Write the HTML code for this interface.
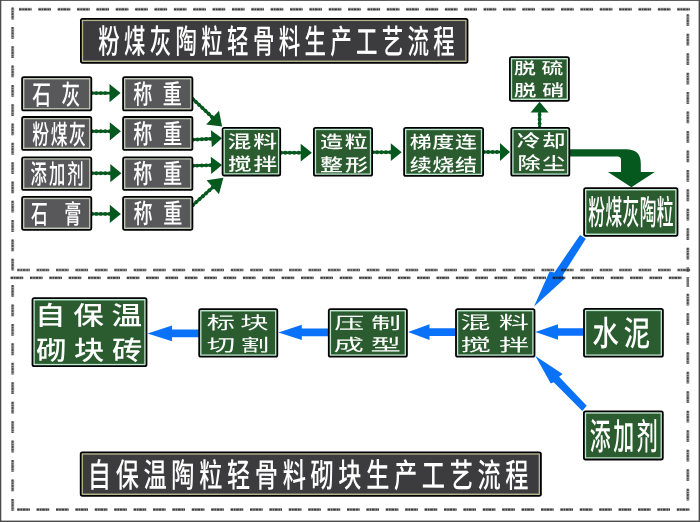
<!DOCTYPE html>
<html lang="zh-CN"><head><meta charset="utf-8"><title>粉煤灰陶粒轻骨料生产工艺流程</title>
<style>
html,body{margin:0;padding:0;background:#fff}
#c{position:relative;width:700px;height:522px;overflow:hidden;background:#fff;font-family:"Liberation Sans","Noto Sans CJK SC",sans-serif}
svg{position:absolute;left:0;top:0}
#tx{position:absolute;left:0;top:0;width:700px;height:522px;will-change:transform}
.t{position:absolute;left:0;top:0;display:inline-block;white-space:pre;line-height:1;color:#fff;transform-origin:0 0}
</style></head><body>
<div id="c">
<svg width="700" height="522" viewBox="0 0 700 522">
<line x1="92.0" y1="93.1" x2="110.5" y2="93.1" stroke="#05581e" stroke-width="2.7"/><line x1="92.0" y1="93.1" x2="109.5" y2="93.1" stroke="#05581e" stroke-width="3.9" stroke-linecap="round" stroke-dasharray="0.01 4.4"/><polygon points="109.5,102.2 120.6,93.1 109.5,84.0" fill="#05581e"/>
<line x1="92.0" y1="131.3" x2="110.8" y2="131.3" stroke="#05581e" stroke-width="2.7"/><line x1="92.0" y1="131.3" x2="109.8" y2="131.3" stroke="#05581e" stroke-width="3.9" stroke-linecap="round" stroke-dasharray="0.01 4.4"/><polygon points="109.8,140.4 120.9,131.3 109.8,122.2" fill="#05581e"/>
<line x1="92.0" y1="173.2" x2="111.3" y2="173.2" stroke="#05581e" stroke-width="2.7"/><line x1="92.0" y1="173.2" x2="110.3" y2="173.2" stroke="#05581e" stroke-width="3.9" stroke-linecap="round" stroke-dasharray="0.01 4.4"/><polygon points="110.3,182.3 121.4,173.2 110.3,164.1" fill="#05581e"/>
<line x1="92.0" y1="213.9" x2="110.8" y2="213.9" stroke="#05581e" stroke-width="2.7"/><line x1="92.0" y1="213.9" x2="109.8" y2="213.9" stroke="#05581e" stroke-width="3.9" stroke-linecap="round" stroke-dasharray="0.01 4.4"/><polygon points="109.8,223.0 120.9,213.9 109.8,204.8" fill="#05581e"/>
<line x1="192.7" y1="98.8" x2="213.3" y2="118.3" stroke="#05581e" stroke-width="2.7"/><line x1="192.7" y1="98.8" x2="212.6" y2="117.6" stroke="#05581e" stroke-width="3.9" stroke-linecap="round" stroke-dasharray="0.01 4.4"/><polygon points="206.2,124.4 222.1,126.6 219.0,110.8" fill="#05581e"/>
<line x1="193.0" y1="139.7" x2="212.3" y2="138.7" stroke="#05581e" stroke-width="2.7"/><line x1="193.0" y1="139.7" x2="211.3" y2="138.8" stroke="#05581e" stroke-width="3.9" stroke-linecap="round" stroke-dasharray="0.01 4.4"/><polygon points="211.8,147.3 222.0,138.2 210.9,130.2" fill="#05581e"/>
<line x1="193.0" y1="165.7" x2="212.0" y2="165.2" stroke="#05581e" stroke-width="2.7"/><line x1="193.0" y1="165.7" x2="211.0" y2="165.3" stroke="#05581e" stroke-width="3.9" stroke-linecap="round" stroke-dasharray="0.01 4.4"/><polygon points="211.2,173.9 222.0,165.0 210.8,156.7" fill="#05581e"/>
<line x1="193.0" y1="205.0" x2="213.6" y2="186.6" stroke="#05581e" stroke-width="2.7"/><line x1="193.0" y1="205.0" x2="212.8" y2="187.3" stroke="#05581e" stroke-width="3.9" stroke-linecap="round" stroke-dasharray="0.01 4.4"/><polygon points="219.0,194.2 223.4,177.8 206.6,180.3" fill="#05581e"/>
<line x1="281.0" y1="152.7" x2="301.7" y2="152.7" stroke="#05581e" stroke-width="2.7"/><line x1="281.0" y1="152.7" x2="300.7" y2="152.7" stroke="#05581e" stroke-width="3.9" stroke-linecap="round" stroke-dasharray="0.01 4.4"/><polygon points="300.7,161.6 311.9,152.7 300.7,143.8" fill="#05581e"/>
<line x1="372.7" y1="152.2" x2="391.8" y2="152.2" stroke="#05581e" stroke-width="2.7"/><line x1="372.7" y1="152.2" x2="390.8" y2="152.2" stroke="#05581e" stroke-width="3.9" stroke-linecap="round" stroke-dasharray="0.01 4.4"/><polygon points="390.8,161.1 401.7,152.2 390.8,143.3" fill="#05581e"/>
<line x1="483.8" y1="152.0" x2="501.0" y2="152.0" stroke="#05581e" stroke-width="2.7"/><line x1="483.8" y1="152.0" x2="500.0" y2="152.0" stroke="#05581e" stroke-width="3.9" stroke-linecap="round" stroke-dasharray="0.01 4.4"/><polygon points="500.0,160.9 509.9,152.0 500.0,143.1" fill="#05581e"/>
<line x1="539.6" y1="128.0" x2="539.6" y2="111.5" stroke="#05581e" stroke-width="2.7"/><line x1="539.6" y1="128.0" x2="539.6" y2="112.5" stroke="#05581e" stroke-width="3.9" stroke-linecap="round" stroke-dasharray="0.01 4.4"/><polygon points="548.6,112.5 539.6,101.8 530.6,112.5" fill="#05581e"/>
<path d="M570,149.3 L626,149.3 Q640.8,149.3 640.8,163.5 L640.8,172.1 L654.8,172.1 L631.4,187.2 L607.9,172.1 L621,172.1 L621,160 Q621,156.5 617.5,156.5 L570,156.5 Z" fill="#05581e"/>
<polygon points="580.0,235.0 585.8,238.7 562.7,275.2 564.3,279.0 534.0,306.5 549.6,271.6 554.4,272.4" fill="#0a72f8"/>
<polygon points="535.4,356.0 562.6,374.1 559.1,376.8 586.7,405.7 582.3,411.0 553.7,382.2 550.8,383.5" fill="#0a72f8"/>
<polygon points="584.0,328.2 558.0,328.2 558.0,324.2 535.3,332.0 558.0,339.8 558.0,335.8 584.0,335.8" fill="#0a72f8"/>
<polygon points="456.0,328.3 429.5,328.3 429.5,324.3 408.1,332.1 429.5,339.9 429.5,335.9 456.0,335.9" fill="#0a72f8"/>
<polygon points="329.0,328.6 301.8,328.6 301.8,324.7 278.4,332.4 301.8,340.1 301.8,336.2 329.0,336.2" fill="#0a72f8"/>
<polygon points="199.0,329.6 172.0,329.6 172.0,325.6 147.5,333.4 172.0,341.2 172.0,337.2 199.0,337.2" fill="#0a72f8"/>
</svg>
<svg width="700" height="522" viewBox="0 0 700 522">
<line x1="19" y1="9.2" x2="690.0" y2="9.2" stroke="#2c2c2c" stroke-width="3.0" stroke-opacity="0.42" stroke-dasharray="12.6 6.76"/><line x1="19" y1="9.299999999999999" x2="690.0" y2="9.299999999999999" stroke="#111" stroke-width="1.7" stroke-opacity="0.72" stroke-dasharray="2.4 0.9 1.5 0.8 2.6 0.9 1.8 0.7 1.0 6.76"/>
<line x1="17.2" y1="509.6" x2="689.6" y2="509.6" stroke="#2c2c2c" stroke-width="3.0" stroke-opacity="0.42" stroke-dasharray="12.6 6.80"/><line x1="17.2" y1="509.70000000000005" x2="689.6" y2="509.70000000000005" stroke="#111" stroke-width="1.7" stroke-opacity="0.72" stroke-dasharray="2.4 0.9 1.5 0.8 2.6 0.9 1.8 0.7 1.0 6.80"/>
<line x1="17.2" y1="269.9" x2="690.3" y2="269.9" stroke="#2c2c2c" stroke-width="3.0" stroke-opacity="0.42" stroke-dasharray="12.6 6.82"/><line x1="17.2" y1="270.0" x2="690.3" y2="270.0" stroke="#111" stroke-width="1.7" stroke-opacity="0.72" stroke-dasharray="2.4 0.9 1.5 0.8 2.6 0.9 1.8 0.7 1.0 6.82"/>
<line x1="10.6" y1="277.8" x2="681.6" y2="277.8" stroke="#2c2c2c" stroke-width="3.0" stroke-opacity="0.42" stroke-dasharray="12.6 6.76"/><line x1="10.6" y1="277.90000000000003" x2="681.6" y2="277.90000000000003" stroke="#111" stroke-width="1.7" stroke-opacity="0.72" stroke-dasharray="2.4 0.9 1.5 0.8 2.6 0.9 1.8 0.7 1.0 6.76"/>
<line x1="12.6" y1="7.6" x2="12.6" y2="270.8" stroke="#2c2c2c" stroke-width="3.2" stroke-opacity="0.42" stroke-dasharray="11.8 7.52"/><line x1="12.6" y1="7.6" x2="12.6" y2="270.8" stroke="#111" stroke-width="1.7" stroke-opacity="0.6" stroke-dasharray="2.25 0.84 1.40 0.75 2.43 0.84 1.69 0.66 0.94 7.52"/>
<line x1="12.6" y1="285" x2="12.6" y2="510.9" stroke="#2c2c2c" stroke-width="3.2" stroke-opacity="0.42" stroke-dasharray="11.8 7.65"/><line x1="12.6" y1="285" x2="12.6" y2="510.9" stroke="#111" stroke-width="1.7" stroke-opacity="0.6" stroke-dasharray="2.25 0.84 1.40 0.75 2.43 0.84 1.69 0.66 0.94 7.65"/>
<line x1="687.8" y1="14.3" x2="687.8" y2="259.7" stroke="#2c2c2c" stroke-width="3.2" stroke-opacity="0.42" stroke-dasharray="11.8 7.65"/><line x1="687.8" y1="14.3" x2="687.8" y2="259.7" stroke="#111" stroke-width="1.7" stroke-opacity="0.6" stroke-dasharray="2.25 0.84 1.40 0.75 2.43 0.84 1.69 0.66 0.94 7.65"/>
<line x1="687.8" y1="267" x2="687.8" y2="272" stroke="#2c2c2c" stroke-width="2.6" stroke-opacity="0.55"/>
<line x1="687.8" y1="293.8" x2="687.8" y2="500.8" stroke="#2c2c2c" stroke-width="3.2" stroke-opacity="0.42" stroke-dasharray="11.8 7.70"/><line x1="687.8" y1="293.8" x2="687.8" y2="500.8" stroke="#111" stroke-width="1.7" stroke-opacity="0.6" stroke-dasharray="2.25 0.84 1.40 0.75 2.43 0.84 1.69 0.66 0.94 7.70"/>
<line x1="687.8" y1="277" x2="687.8" y2="287" stroke="#2c2c2c" stroke-width="2.6" stroke-opacity="0.65"/>
</svg>
<svg width="700" height="522" viewBox="0 0 700 522">
<rect x="80.00" y="17.90" width="388.40" height="45.80" rx="2.6" fill="#000"/><rect x="81.80" y="19.70" width="384.80" height="42.20" rx="0.6" fill="#b4b48c"/><rect x="83.15" y="21.05" width="382.10" height="39.50" fill="#3c3c3e"/>
<rect x="79.80" y="451.50" width="462.00" height="45.20" rx="2.6" fill="#000"/><rect x="81.60" y="453.30" width="458.40" height="41.60" rx="0.6" fill="#b4b48c"/><rect x="82.95" y="454.65" width="455.70" height="38.90" fill="#3c3c3e"/>
<rect x="21.20" y="76.30" width="71.00" height="35.00" rx="2.6" fill="#000"/><rect x="23.00" y="78.10" width="67.40" height="31.40" rx="0.6" fill="#c0c8b6"/><rect x="24.35" y="79.45" width="64.70" height="28.70" fill="#58585b"/>
<rect x="122.20" y="76.30" width="71.10" height="35.00" rx="2.6" fill="#000"/><rect x="124.00" y="78.10" width="67.50" height="31.40" rx="0.6" fill="#c0c8b6"/><rect x="125.35" y="79.45" width="64.80" height="28.70" fill="#58585b"/>
<rect x="21.20" y="116.10" width="71.00" height="34.70" rx="2.6" fill="#000"/><rect x="23.00" y="117.90" width="67.40" height="31.10" rx="0.6" fill="#c0c8b6"/><rect x="24.35" y="119.25" width="64.70" height="28.40" fill="#58585b"/>
<rect x="122.20" y="116.10" width="71.10" height="34.70" rx="2.6" fill="#000"/><rect x="124.00" y="117.90" width="67.50" height="31.10" rx="0.6" fill="#c0c8b6"/><rect x="125.35" y="119.25" width="64.80" height="28.40" fill="#58585b"/>
<rect x="21.20" y="156.40" width="71.00" height="34.40" rx="2.6" fill="#000"/><rect x="23.00" y="158.20" width="67.40" height="30.80" rx="0.6" fill="#c0c8b6"/><rect x="24.35" y="159.55" width="64.70" height="28.10" fill="#58585b"/>
<rect x="122.20" y="156.40" width="71.10" height="34.40" rx="2.6" fill="#000"/><rect x="124.00" y="158.20" width="67.50" height="30.80" rx="0.6" fill="#c0c8b6"/><rect x="125.35" y="159.55" width="64.80" height="28.10" fill="#58585b"/>
<rect x="21.20" y="196.00" width="71.00" height="34.70" rx="2.6" fill="#000"/><rect x="23.00" y="197.80" width="67.40" height="31.10" rx="0.6" fill="#c0c8b6"/><rect x="24.35" y="199.15" width="64.70" height="28.40" fill="#58585b"/>
<rect x="122.20" y="196.00" width="71.10" height="34.70" rx="2.6" fill="#000"/><rect x="124.00" y="197.80" width="67.50" height="31.10" rx="0.6" fill="#c0c8b6"/><rect x="125.35" y="199.15" width="64.80" height="28.40" fill="#58585b"/>
<rect x="221.70" y="126.90" width="59.40" height="49.50" rx="2.6" fill="#000"/><rect x="223.50" y="128.70" width="55.80" height="45.90" rx="0.6" fill="#bce6cf"/><rect x="224.85" y="130.05" width="53.10" height="43.20" fill="#2a5c2f"/>
<rect x="313.00" y="127.00" width="60.00" height="49.60" rx="2.6" fill="#000"/><rect x="314.80" y="128.80" width="56.40" height="46.00" rx="0.6" fill="#bce6cf"/><rect x="316.15" y="130.15" width="53.70" height="43.30" fill="#2a5c2f"/>
<rect x="403.20" y="127.00" width="80.80" height="49.80" rx="2.6" fill="#000"/><rect x="405.00" y="128.80" width="77.20" height="46.20" rx="0.6" fill="#bce6cf"/><rect x="406.35" y="130.15" width="74.50" height="43.50" fill="#2a5c2f"/>
<rect x="510.40" y="127.00" width="59.80" height="49.60" rx="2.6" fill="#000"/><rect x="512.20" y="128.80" width="56.20" height="46.00" rx="0.6" fill="#bce6cf"/><rect x="513.55" y="130.15" width="53.50" height="43.30" fill="#2a5c2f"/>
<rect x="509.00" y="56.30" width="60.80" height="45.40" rx="2.6" fill="#000"/><rect x="510.80" y="58.10" width="57.20" height="41.80" rx="0.6" fill="#bce6cf"/><rect x="512.15" y="59.45" width="54.50" height="39.10" fill="#2a5c2f"/>
<rect x="583.20" y="187.30" width="95.20" height="49.40" rx="2.6" fill="#000"/><rect x="585.00" y="189.10" width="91.60" height="45.80" rx="0.6" fill="#bce6cf"/><rect x="586.35" y="190.45" width="88.90" height="43.10" fill="#2a5c2f"/>
<rect x="31.60" y="297.30" width="115.80" height="69.70" rx="2.6" fill="#000"/><rect x="33.40" y="299.10" width="112.20" height="66.10" rx="0.6" fill="#bce6cf"/><rect x="34.75" y="300.45" width="109.50" height="63.40" fill="#2a5c2f"/>
<rect x="198.30" y="308.30" width="79.90" height="49.30" rx="2.6" fill="#000"/><rect x="200.10" y="310.10" width="76.30" height="45.70" rx="0.6" fill="#bce6cf"/><rect x="201.45" y="311.45" width="73.60" height="43.00" fill="#2a5c2f"/>
<rect x="327.90" y="308.30" width="79.90" height="49.30" rx="2.6" fill="#000"/><rect x="329.70" y="310.10" width="76.30" height="45.70" rx="0.6" fill="#bce6cf"/><rect x="331.05" y="311.45" width="73.60" height="43.00" fill="#2a5c2f"/>
<rect x="455.10" y="308.30" width="80.30" height="49.30" rx="2.6" fill="#000"/><rect x="456.90" y="310.10" width="76.70" height="45.70" rx="0.6" fill="#bce6cf"/><rect x="458.25" y="311.45" width="74.00" height="43.00" fill="#2a5c2f"/>
<rect x="583.10" y="308.00" width="80.70" height="49.60" rx="2.6" fill="#000"/><rect x="584.90" y="309.80" width="77.10" height="46.00" rx="0.6" fill="#bce6cf"/><rect x="586.25" y="311.15" width="74.40" height="43.30" fill="#2a5c2f"/>
<rect x="583.00" y="410.50" width="80.70" height="49.90" rx="2.6" fill="#000"/><rect x="584.80" y="412.30" width="77.10" height="46.30" rx="0.6" fill="#bce6cf"/><rect x="586.15" y="413.65" width="74.40" height="43.60" fill="#2a5c2f"/>
</svg>
<div id="tx">
<span class="t" style="font-size:33.09px;letter-spacing:0.2em;font-weight:500;transform:translate(98.28px,25.25px) scaleX(0.6492) rotate(0.03deg)">粉煤灰陶粒轻骨料生产工艺流程</span>
<span class="t" style="font-size:33.09px;letter-spacing:0.2em;font-weight:500;transform:translate(87.80px,458.91px) scaleX(0.7013) rotate(0.03deg)">自保温陶粒轻骨料砌块生产工艺流程</span>
<span class="t" style="font-size:27.17px;letter-spacing:0.56em;font-weight:500;transform:translate(32.36px,81.45px) scaleX(0.6881) rotate(0.03deg)">石灰</span>
<span class="t" style="font-size:26.70px;letter-spacing:0.09em;font-weight:500;transform:translate(32.27px,122.11px) scaleX(0.6316) rotate(0.03deg)">粉煤灰</span>
<span class="t" style="font-size:26.80px;letter-spacing:0.13em;font-weight:500;transform:translate(30.49px,161.66px) scaleX(0.6078) rotate(0.03deg)">添加剂</span>
<span class="t" style="font-size:26.50px;letter-spacing:1.0em;font-weight:500;transform:translate(31.06px,201.45px) scaleX(0.6309) rotate(0.03deg)">石膏</span>
<span class="t" style="font-size:26.67px;letter-spacing:0.55em;font-weight:500;transform:translate(133.19px,81.65px) scaleX(0.7168) rotate(0.03deg)">称重</span>
<span class="t" style="font-size:26.67px;letter-spacing:0.55em;font-weight:500;transform:translate(133.29px,121.49px) scaleX(0.7186) rotate(0.03deg)">称重</span>
<span class="t" style="font-size:26.67px;letter-spacing:0.55em;font-weight:500;transform:translate(133.31px,161.31px) scaleX(0.7179) rotate(0.03deg)">称重</span>
<span class="t" style="font-size:26.67px;letter-spacing:0.55em;font-weight:500;transform:translate(133.59px,201.03px) scaleX(0.7158) rotate(0.03deg)">称重</span>
<span class="t" style="font-size:17.98px;letter-spacing:0.08em;font-weight:500;transform:translate(227.62px,133.03px) scaleX(1.3202) rotate(0.03deg)">混料</span>
<span class="t" style="font-size:17.77px;letter-spacing:0.08em;font-weight:500;transform:translate(227.90px,156.39px) scaleX(1.3286) rotate(0.03deg)">搅拌</span>
<span class="t" style="font-size:17.34px;letter-spacing:0.08em;font-weight:500;transform:translate(320.00px,134.03px) scaleX(1.3268) rotate(0.03deg)">造粒</span>
<span class="t" style="font-size:17.66px;letter-spacing:0.08em;font-weight:500;transform:translate(320.01px,157.26px) scaleX(1.3061) rotate(0.03deg)">整形</span>
<span class="t" style="font-size:17.13px;letter-spacing:0.03em;font-weight:500;transform:translate(409.80px,134.22px) scaleX(1.2794) rotate(0.03deg)">梯度连</span>
<span class="t" style="font-size:17.66px;letter-spacing:0.03em;font-weight:500;transform:translate(409.69px,157.28px) scaleX(1.2459) rotate(0.03deg)">续烧结</span>
<span class="t" style="font-size:17.66px;letter-spacing:0.08em;font-weight:500;transform:translate(516.74px,133.12px) scaleX(1.3308) rotate(0.03deg)">冷却</span>
<span class="t" style="font-size:17.85px;letter-spacing:0.08em;font-weight:500;transform:translate(517.43px,155.62px) scaleX(1.2916) rotate(0.03deg)">除尘</span>
<span class="t" style="font-size:16.17px;letter-spacing:0.25em;font-weight:500;transform:translate(514.05px,60.05px) scaleX(1.3539) rotate(0.03deg)">脱硫</span>
<span class="t" style="font-size:16.17px;letter-spacing:0.25em;font-weight:500;transform:translate(513.99px,82.07px) scaleX(1.3879) rotate(0.03deg)">脱硝</span>
<span class="t" style="font-size:33.85px;letter-spacing:0.02em;font-weight:500;transform:translate(588.29px,196.45px) scaleX(0.4963) rotate(0.03deg)">粉煤灰陶粒</span>
<span class="t" style="font-size:25.96px;letter-spacing:0.25em;font-weight:500;transform:translate(35.09px,303.72px) scaleX(1.1764) rotate(0.03deg)">自保温</span>
<span class="t" style="font-size:26.52px;letter-spacing:0.25em;font-weight:500;transform:translate(36.21px,337.70px) scaleX(1.1416) rotate(0.03deg)">砌块砖</span>
<span class="t" style="font-size:17.74px;letter-spacing:0.19em;font-weight:400;transform:translate(206.66px,315.02px) scaleX(1.5917) rotate(0.03deg)">标块</span>
<span class="t" style="font-size:17.31px;letter-spacing:0.19em;font-weight:400;transform:translate(206.81px,337.35px) scaleX(1.6479) rotate(0.03deg)">切割</span>
<span class="t" style="font-size:16.85px;letter-spacing:0.22em;font-weight:400;transform:translate(334.32px,315.94px) scaleX(1.7849) rotate(0.03deg)">压制</span>
<span class="t" style="font-size:16.77px;letter-spacing:0.22em;font-weight:400;transform:translate(333.51px,337.79px) scaleX(1.8150) rotate(0.03deg)">成型</span>
<span class="t" style="font-size:17.93px;letter-spacing:0.27em;font-weight:400;transform:translate(460.27px,314.74px) scaleX(1.6859) rotate(0.03deg)">混料</span>
<span class="t" style="font-size:17.23px;letter-spacing:0.27em;font-weight:400;transform:translate(460.78px,336.90px) scaleX(1.7477) rotate(0.03deg)">搅拌</span>
<span class="t" style="font-size:34.03px;letter-spacing:0.18em;font-weight:500;transform:translate(592.62px,316.43px) scaleX(0.7755) rotate(0.03deg)">水泥</span>
<span class="t" style="font-size:36.39px;letter-spacing:0.12em;font-weight:500;transform:translate(589.83px,419.54px) scaleX(0.5749) rotate(0.03deg)">添加剂</span>
</div>
<svg width="700" height="522" viewBox="0 0 700 522"><rect x="0" y="0" width="700" height="0.9" fill="#4c4c4c"/><rect x="0" y="0" width="1.3" height="522" fill="#4c4c4c"/><rect x="698.6" y="0" width="1.4" height="522" fill="#4c4c4c"/><rect x="0" y="520.6" width="700" height="1.4" fill="#4c4c4c"/></svg>
</div>
</body></html>
